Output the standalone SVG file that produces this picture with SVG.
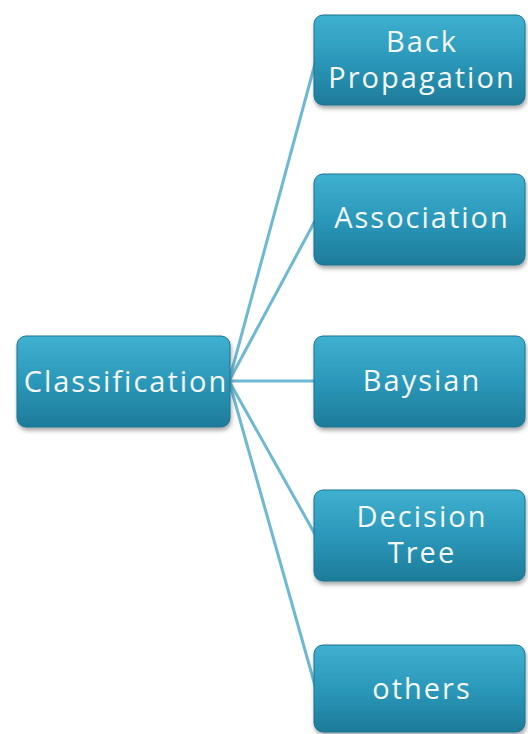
<svg xmlns="http://www.w3.org/2000/svg" width="528" height="734" viewBox="0 0 528 734">
<defs>
<linearGradient id="g" x1="0" y1="0" x2="0" y2="1">
<stop offset="0" stop-color="#3fb0d0"/>
<stop offset="0.5" stop-color="#2b98ba"/>
<stop offset="1" stop-color="#1e7b99"/>
</linearGradient>
<filter id="sh" x="-10%" y="-10%" width="125%" height="130%">
<feDropShadow dx="1" dy="3" stdDeviation="2" flood-color="#000" flood-opacity="0.35"/>
</filter>
</defs>
<style>
.box{fill:url(#g);stroke:#1d7290;stroke-width:1;filter:url(#sh)}
.t{font-family:"Open Sans","Lato",sans-serif;font-size:29px;letter-spacing:2px;fill:#f4f8f8;text-anchor:middle}
.c{stroke:#6db8d2;stroke-width:3;fill:none}
</style>
<rect width="528" height="734" fill="#fff"/>
<g id="connectors">
<line class="c" x1="229" y1="381" x2="316" y2="60"/>
<line class="c" x1="229" y1="381" x2="316" y2="219"/>
<line class="c" x1="229" y1="381" x2="316" y2="381"/>
<line class="c" x1="229" y1="381" x2="316" y2="536"/>
<line class="c" x1="229" y1="381" x2="316" y2="689"/>
</g>
<g id="classification">
<rect class="box" x="17" y="336" width="213" height="91" rx="9"/>
<text class="t" x="126" y="392">Classification</text>
</g>
<g id="backprop">
<rect class="box" x="314" y="15" width="211" height="90" rx="9"/>
<text class="t" x="422" y="52">Back</text>
<text class="t" x="422" y="88">Propagation</text>
</g>
<g id="association">
<rect class="box" x="314" y="174" width="211" height="91" rx="9"/>
<text class="t" x="422" y="228">Association</text>
</g>
<g id="baysian">
<rect class="box" x="314" y="336" width="211" height="91" rx="9"/>
<text class="t" x="422" y="391">Baysian</text>
</g>
<g id="decisiontree">
<rect class="box" x="314" y="490" width="211" height="91" rx="9"/>
<text class="t" x="422" y="527">Decision</text>
<text class="t" x="422" y="563">Tree</text>
</g>
<g id="others">
<rect class="box" x="314" y="645" width="211" height="87" rx="9"/>
<text class="t" x="422" y="699">others</text>
</g>
</svg>
